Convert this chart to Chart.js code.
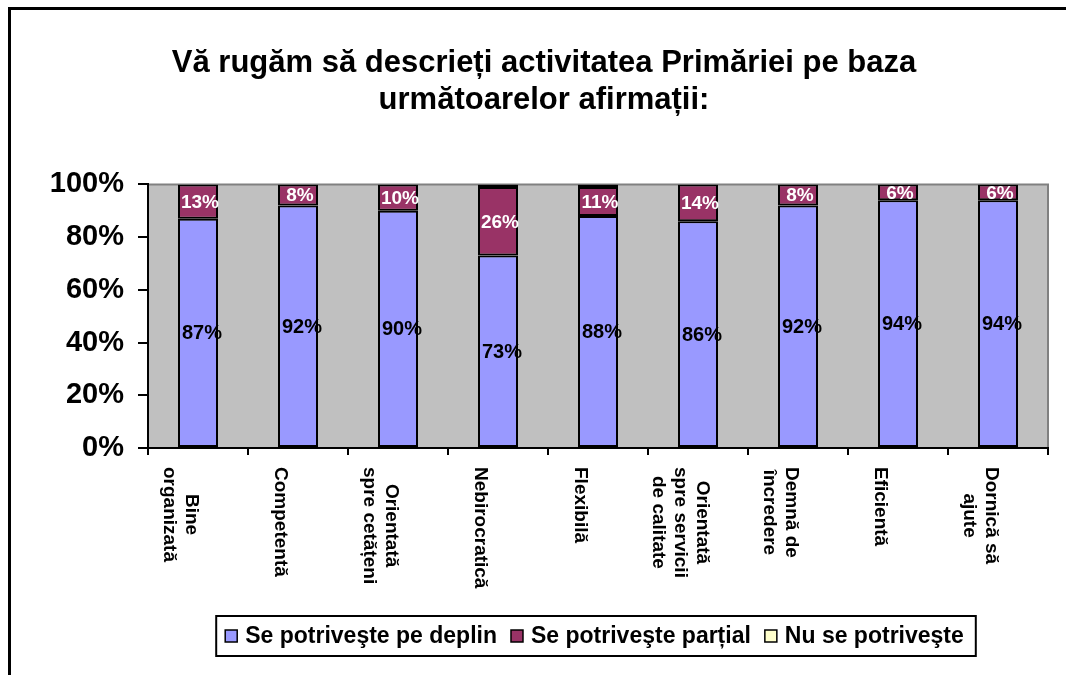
<!DOCTYPE html>
<html>
<head>
<meta charset="utf-8">
<script src="https://cdn.jsdelivr.net/npm/chart.js@4.4.0/dist/chart.umd.min.js"></script>
<style>
  html, body { margin: 0; padding: 0; background: #fff; overflow: hidden; }
  #wrap { width: 1066px; height: 675px; }
</style>
</head>
<body>
<div id="wrap"><canvas id="grafic" width="1066" height="675"></canvas></div>
<script>
// date
const categorii = [
  ["Bine", "organizată"],
  ["Competentă"],
  ["Orientată", "spre cetățeni"],
  ["Nebirocratică"],
  ["Flexibilă"],
  ["Orientată", "spre servicii", "de calitate"],
  ["Demnă de", "încredere"],
  ["Eficientă"],
  ["Dornică să", "ajute"]
];
const serii = ["Se potriveşte pe deplin", "Se potriveşte parțial", "Nu se potriveşte"];
const deplin = [87, 92, 90, 73, 88, 86, 92, 94, 94];
const partial = [13, 8, 10, 26, 11, 14, 8, 6, 6];
const nuSePotriveste = [0, 0, 0, 1, 1, 0, 0, 0, 0];
const culori = ["#9999FF", "#993366", "#FFFFCC"];

const FONT = '"Liberation Sans", Arial, sans-serif';

// fundal, rama si zona gri
const fundal = {
  id: "fundal",
  beforeDraw(chart) {
    const { ctx, chartArea: a } = chart;
    ctx.save();
    ctx.fillStyle = "#fff";
    ctx.fillRect(0, 0, chart.width, chart.height);
    ctx.strokeStyle = "#000";
    ctx.lineWidth = 3;
    ctx.beginPath();
    ctx.moveTo(9.5, chart.height + 5);
    ctx.lineTo(9.5, 8.5);
    ctx.lineTo(chart.width + 5, 8.5);
    ctx.stroke();
    ctx.fillStyle = "#C0C0C0";
    ctx.fillRect(a.left, a.top, a.right - a.left, a.bottom - a.top);
    ctx.strokeStyle = "#808080";
    ctx.lineWidth = 2;
    ctx.beginPath();
    ctx.moveTo(a.left, a.top);
    ctx.lineTo(a.right, a.top);
    ctx.lineTo(a.right, a.bottom);
    ctx.stroke();
    ctx.restore();
  }
};

// procentele din bare
const procente = {
  id: "procente",
  afterDatasetsDraw(chart) {
    const ctx = chart.ctx;
    ctx.save();
    ctx.textAlign = "center";
    ctx.textBaseline = "middle";
    [0, 1].forEach((i) => {
      const valori = chart.data.datasets[i].data;
      ctx.font = "bold " + (i === 0 ? 20 : 19) + "px " + FONT;
      ctx.fillStyle = i === 0 ? "#000" : "#fff";
      chart.getDatasetMeta(i).data.forEach((bara, j) => {
        if (!valori[j]) return;
        const y = (bara.y + bara.base) / 2;
        ctx.fillText(valori[j] + "%", bara.x + (i === 0 ? 4 : 2), y + 1);
      });
    });
    ctx.restore();
  }
};

// etichete categorii, rotite in sensul acelor de ceasornic
const eticheteX = {
  id: "eticheteX",
  afterDraw(chart) {
    const ctx = chart.ctx;
    const sx = chart.scales.x;
    ctx.save();
    ctx.font = "bold 19px " + FONT;
    ctx.fillStyle = "#000";
    ctx.textAlign = "center";
    ctx.textBaseline = "middle";
    categorii.forEach((linii, i) => {
      const cx = sx.getPixelForValue(i) - 18;
      const maxW = Math.max(...linii.map((l) => ctx.measureText(l).width));
      const cy = chart.chartArea.bottom + 19 + maxW / 2;
      ctx.save();
      ctx.translate(cx, cy);
      ctx.rotate(Math.PI / 2);
      const n = linii.length;
      linii.forEach((l, k) => {
        ctx.fillText(l, 0, (k - (n - 1) / 2) * 22);
      });
      ctx.restore();
    });
    ctx.restore();
  }
};

// legenda cu chenar
const legenda = {
  id: "legenda",
  afterDraw(chart) {
    const ctx = chart.ctx;
    const a = chart.chartArea;
    ctx.save();
    ctx.font = "bold 23px " + FONT;
    const latimi = serii.map((s) => ctx.measureText(s).width);
    const patrat = 12, gapText = 8, gapItem = 14;
    let total = 0;
    latimi.forEach((w, i) => { total += patrat + gapText + w + (i > 0 ? gapItem : 0); });
    const boxW = total + 9 + 12;
    const left = (a.left + a.right) / 2 - boxW / 2 - 2;
    const top = 616, h = 40;
    ctx.fillStyle = "#fff";
    ctx.fillRect(left, top, boxW, h);
    ctx.strokeStyle = "#000";
    ctx.lineWidth = 2;
    ctx.strokeRect(left, top, boxW, h);
    let x = left + 9;
    const midY = top + h / 2;
    ctx.textBaseline = "middle";
    ctx.textAlign = "left";
    serii.forEach((s, i) => {
      ctx.fillStyle = culori[i];
      ctx.fillRect(x, midY - 6, patrat, patrat);
      ctx.lineWidth = 1.5;
      ctx.strokeStyle = "#000";
      ctx.strokeRect(x, midY - 6, patrat, patrat);
      ctx.fillStyle = "#000";
      ctx.fillText(s, x + patrat + gapText, midY + 1);
      x += patrat + gapText + latimi[i] + gapItem;
    });
    ctx.restore();
  }
};

const ctx = document.getElementById("grafic").getContext("2d");

new Chart(ctx, {
  type: "bar",
  data: {
    labels: categorii,
    datasets: [
      { label: serii[0], data: deplin, backgroundColor: culori[0] },
      { label: serii[1], data: partial, backgroundColor: culori[1] },
      { label: serii[2], data: nuSePotriveste, backgroundColor: culori[2] }
    ].map((d) => Object.assign(d, {
      borderColor: "#000",
      borderWidth: 2,
      borderSkipped: false,
      barPercentage: 0.4,
      categoryPercentage: 1
    }))
  },
  options: {
    responsive: false,
    animation: false,
    layout: { padding: { left: 40, right: 18, top: 20, bottom: 0 } },
    plugins: {
      legend: { display: false },
      tooltip: { enabled: false },
      title: {
        display: true,
        text: ["Vă rugăm să descrieți activitatea Primăriei pe baza", "următoarelor afirmații:"],
        color: "#000",
        font: { family: FONT, size: 31, weight: "bold", lineHeight: 1.2 },
        padding: { top: 25, bottom: 65 }
      }
    },
    scales: {
      x: {
        stacked: true,
        offset: true,
        ticks: { display: false },
        grid: { drawOnChartArea: false, drawTicks: true, tickLength: 7, color: "#000", lineWidth: 2, offset: true },
        border: { color: "#000", width: 2 },
        afterFit: (s) => { s.height = 227; }
      },
      y: {
        stacked: true,
        min: 0,
        max: 100,
        ticks: {
          stepSize: 20,
          color: "#000",
          padding: 14,
          font: { family: FONT, size: 29, weight: "bold" },
          callback: (v) => v + "%"
        },
        grid: { drawOnChartArea: false, drawTicks: true, tickLength: 10, color: "#000", lineWidth: 2 },
        border: { color: "#000", width: 2 },
        afterFit: (s) => { s.width = 108; }
      }
    }
  },
  plugins: [fundal, procente, eticheteX, legenda]
});
</script>
</body>
</html>
